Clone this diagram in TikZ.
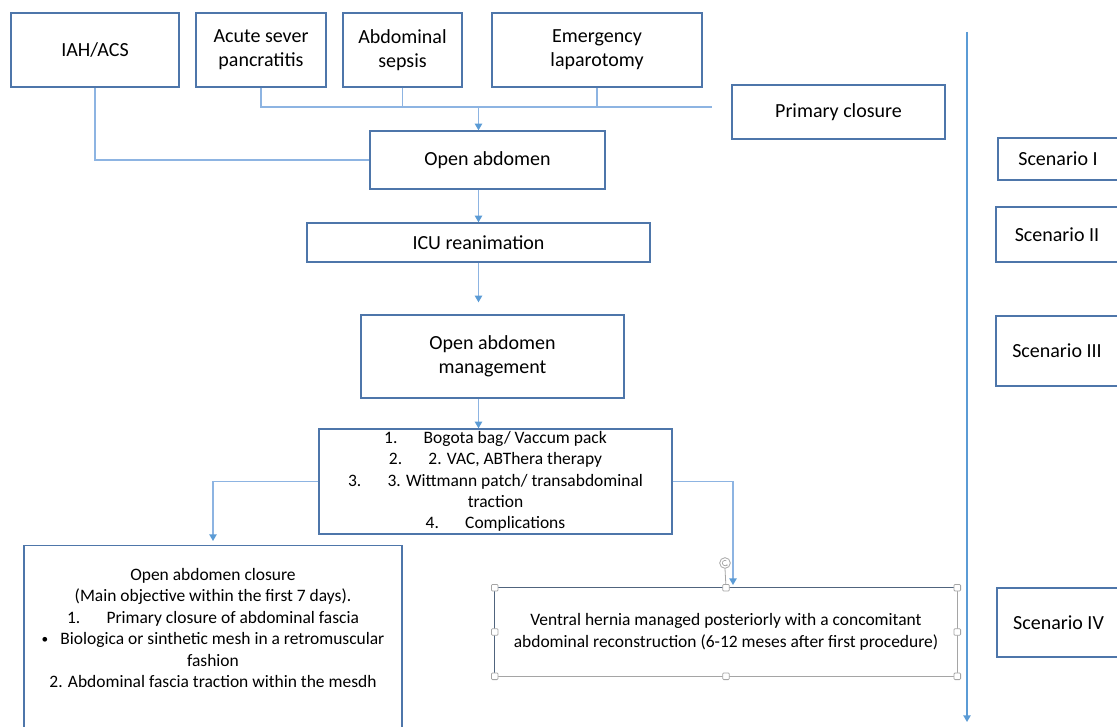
\documentclass[tikz,border=0pt]{standalone}
\usepackage{fontspec}
\setmainfont{Carlito}
\usetikzlibrary{arrows.meta}
\definecolor{boxblue}{RGB}{78, 118, 170}
\definecolor{linkblue}{RGB}{141, 180, 226}
\definecolor{arrowblue}{RGB}{91, 155, 213}
\definecolor{selgray}{RGB}{165, 165, 165}
\definecolor{seldark}{RGB}{80, 100, 125}
\newcommand{\bigtext}{\fontsize{15}{18}\selectfont}
\newcommand{\smalltext}{\fontsize{13.1}{16}\selectfont}

\begin{document}
\begin{tikzpicture}[
  x=0.75pt, y=-0.75pt,
  box/.style={draw=boxblue, line width=1pt, align=center, inner sep=0pt, font=\bigtext},
  smallbox/.style={box, font=\smalltext},
  link/.style={linkblue, line width=1pt},
  arrow/.style={link, -{Triangle[length=5pt, width=5.5pt, color=arrowblue]}},
  handle/.style={draw=selgray, fill=white, minimum size=5pt, inner sep=0pt, rounded corners=0.8pt, line width=0.6pt},
]
\useasboundingbox (0,0) rectangle (1117,727);

% Causes
\node[box, minimum width=126pt, minimum height=55.5pt] (iah) at (95, 50) {IAH/ACS};
\node[box, minimum width=97.5pt, minimum height=55.5pt] (acute) at (261, 50) {Acute sever\\pancratitis};
\node[box, minimum width=89.25pt, minimum height=55.5pt] (sepsis) at (402.5, 50) {Abdominal\\sepsis};
\node[box, minimum width=157.5pt, minimum height=55.5pt] (emerg) at (597, 50) {Emergency\\laparotomy};
\node[box, minimum width=159.75pt, minimum height=40.5pt] (primary) at (838.5, 112) {Primary closure};

% Main flow
\node[box, minimum width=176.25pt, minimum height=43.5pt] (openab) at (487.5, 160) {Open abdomen};
\node[box, minimum width=257.25pt, minimum height=29.25pt] (icu) at (478.5, 242.5) {ICU reanimation};
\node[box, minimum width=197.25pt, minimum height=62.25pt] (oam) at (492.5, 356.5) {Open abdomen\\management};
\node[smallbox, minimum width=264.75pt, minimum height=78.75pt] (techs) at (495.5, 481.5) {1.\hspace{1.5em}Bogota bag/ Vaccum pack\\2.\hspace{1.5em}2. VAC, ABThera therapy\\3.\hspace{1.5em}3. Wittmann patch/ transabdominal\\traction\\4.\hspace{1.5em}Complications};

% Outcomes
\node[draw=boxblue, line width=1pt, minimum width=283.5pt, minimum height=187.5pt, anchor=north] (closure) at (213, 545) {};
\node[align=center, inner sep=0pt, font=\smalltext] (closure text) at (213, 628) {Open abdomen closure\\(Main objective within the first 7 days).\\1.\hspace{1.5em}Primary closure of abdominal fascia\\\raisebox{1pt}{\fontsize{10}{16}\selectfont\textbullet}\hspace{0.7em}Biologica or sinthetic mesh in a retromuscular\\fashion\\2. Abdominal fascia traction within the mesdh};
\node[align=center, inner sep=0pt, font=\smalltext, minimum width=346.5pt, minimum height=66pt] (ventral) at (726, 632) {Ventral hernia managed posteriorly with a concomitant\\abdominal reconstruction (6-12 meses after first procedure)};
\draw[seldark, line width=1pt] (ventral.south west) -- (ventral.north west) -- (ventral.north east);
\draw[selgray, line width=0.8pt] (ventral.north east) -- (ventral.south east) -- (ventral.south west);

% Scenarios
\node[box, minimum width=90pt, minimum height=31.5pt] (sc1) at (1058, 159) {Scenario I};
\node[box, minimum width=91.5pt, minimum height=41.25pt] (sc2) at (1057, 234.5) {Scenario II};
\node[box, minimum width=91.5pt, minimum height=52.5pt] (sc3) at (1057, 351) {Scenario III};
\node[box, minimum width=92.25pt, minimum height=51.75pt] (sc4) at (1058.5, 622.5) {Scenario IV};

% Connectors
\coordinate (bus end) at (712, 107);
\draw[link] (acute.south) |- (bus end);
\draw[link] (sepsis.south) -- (sepsis.south |- bus end);
\draw[link] (emerg.south) -- (emerg.south |- bus end);
\draw[arrow] (icu.north |- bus end) -- (icu.north |- openab.north);
\draw[link] (iah.south) |- (openab.west);
\draw[arrow] (icu.north |- openab.south) -- (icu.north);
\draw[arrow, shorten >=9pt] (icu.south) -- (icu.south |- oam.north);
\draw[arrow] (icu.south |- oam.south) -- (icu.south |- techs.north);
\draw[arrow, shorten >=3pt] (techs.west) -| (closure.north);
\draw[arrow, shorten >=2pt] (techs.east) -| ([xshift=5.25pt]ventral.north);

% Time axis
\coordinate (axis top) at (967, 32);
\coordinate (axis end) at (967, 722);
\draw[arrowblue, line width=1pt, -{Triangle[length=5pt, width=5.5pt]}] (axis top) -- (axis end);

% Selection handles
\node[handle, circle, minimum size=8pt] (rot) at (725, 563) {};
\draw[selgray, line width=0.6pt] (rot.south) -- (ventral.north);
\draw[selgray, line width=0.5pt, -{Stealth[length=1.2pt, width=1.5pt]}] (rot.center) ++(60:2pt) arc[start angle=60, end angle=330, radius=2pt];
\foreach \a in {north west, north, north east, east, south east, south, south west, west}
  \node[handle] (vh \a) at (ventral.\a) {};
\end{tikzpicture}
\end{document}
